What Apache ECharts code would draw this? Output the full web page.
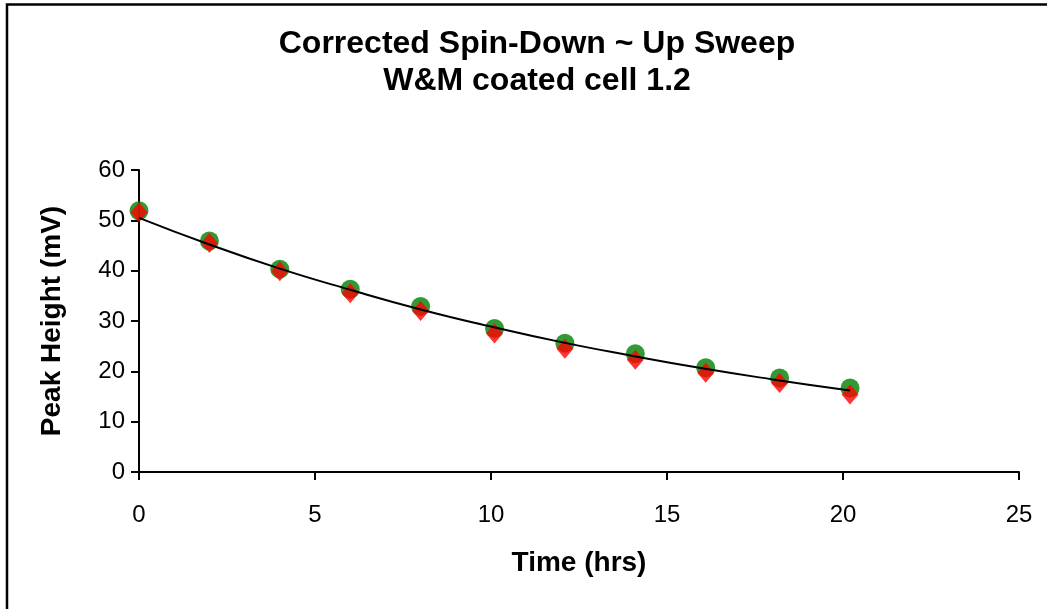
<!DOCTYPE html>
<html>
<head>
<meta charset="utf-8">
<script src="https://cdn.jsdelivr.net/npm/echarts@6/dist/echarts.min.js"></script>
<style>html,body{margin:0;padding:0;background:#fff}#c{width:1047px;height:609px}</style>
</head>
<body>
<div id="c"></div>
<script>
const timeHrs = [0, 2, 4, 6, 8, 10.1, 12.1, 14.1, 16.1, 18.2, 20.2];
const greenPeak = [51.9, 45.9, 40.3, 36.3, 32.9, 28.5, 25.6, 23.5, 20.7, 18.7, 16.7];
const redPeak = [51.6, 45.5, 39.9, 35.5, 32.0, 27.5, 24.5, 22.3, 19.7, 17.7, 15.4];
const fitTime = [0, 2, 4, 6, 8, 10, 12, 14, 16, 18, 20.2];
const fitPeak = [50.5, 45.2, 40.4, 36.2, 32.3, 28.9, 25.8, 23.1, 20.6, 18.4, 16.2];
const xTicks = [0, 5, 10, 15, 20, 25];
const yTicks = [0, 10, 20, 30, 40, 50, 60];

const pairs = (xs, ys) => xs.map((x, i) => [x, ys[i]]);
const FONT = '"Liberation Sans", Arial, sans-serif';

const chart = echarts.init(document.getElementById('c'), null, {renderer: 'canvas'});
chart.setOption({
  animation: false,
  backgroundColor: '#fff',
  title: {
    text: 'Corrected Spin-Down ~ Up Sweep\nW&M coated cell 1.2',
    left: 532, top: 21, textAlign: 'center',
    textStyle: {fontFamily: FONT, fontWeight: 'bold', fontSize: 32, lineHeight: 37, color: '#000'}
  },
  graphic: [{
    type: 'rect', shape: {x: 7, y: 4.5, width: 1100, height: 700},
    style: {fill: 'none', stroke: '#000', lineWidth: 2.5}, silent: true
  }],
  grid: {left: 139, top: 170, right: 28, bottom: 137, containLabel: false},
  xAxis: {
    type: 'value', min: xTicks[0], max: xTicks[xTicks.length - 1], interval: 5,
    name: 'Time (hrs)', nameLocation: 'middle', nameGap: 77,
    nameTextStyle: {fontFamily: FONT, fontWeight: 'bold', fontSize: 28, color: '#000'},
    axisLine: {lineStyle: {color: '#000', width: 2}},
    axisTick: {show: true, inside: false, length: 8, lineStyle: {color: '#000', width: 2}},
    axisLabel: {fontFamily: FONT, fontSize: 24, color: '#000', margin: 31},
    splitLine: {show: false}
  },
  yAxis: {
    type: 'value', min: yTicks[0], max: yTicks[yTicks.length - 1], interval: 10,
    name: 'Peak Height (mV)', nameLocation: 'middle', nameGap: 73,
    nameTextStyle: {fontFamily: FONT, fontWeight: 'bold', fontSize: 28, color: '#000'},
    axisLine: {show: true, lineStyle: {color: '#000', width: 2}},
    axisTick: {show: true, inside: false, length: 8, lineStyle: {color: '#000', width: 2}},
    axisLabel: {fontFamily: FONT, fontSize: 24, color: '#000', margin: 14},
    splitLine: {show: false}
  },
  series: [
    {
      name: 'Fit', type: 'line', data: pairs(fitTime, fitPeak), smooth: true,
      showSymbol: false, symbol: 'none', z: 3,
      lineStyle: {color: '#000', width: 2}
    },
    {
      name: 'Green', type: 'scatter', data: pairs(timeHrs, greenPeak),
      symbol: 'circle', symbolSize: 19, z: 2,
      itemStyle: {color: '#008000'}
    },
    {
      name: 'Red', type: 'scatter', data: pairs(timeHrs, redPeak),
      symbol: 'diamond', symbolSize: [17, 20], z: 2,
      itemStyle: {color: '#ff0000'}
    }
  ]
});
</script>
</body>
</html>
